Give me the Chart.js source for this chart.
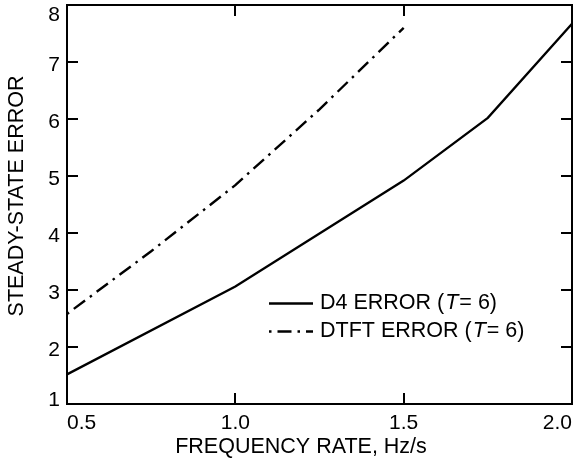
<!DOCTYPE html>
<html>
<head>
<meta charset="utf-8">
<style>
  html, body { margin: 0; padding: 0; background: #fff; }
  #wrap { width: 573px; height: 473px; }
</style>
<script src="https://cdn.jsdelivr.net/npm/chart.js@4/dist/chart.umd.min.js"></script>
</head>
<body>
<div id="wrap"><canvas id="myChart" width="573" height="473"></canvas></div>
<script>
'use strict';

// values
const d4Rate = [0.5, 1.0, 1.5, 1.75, 2.0];
const d4Error = [1.52, 3.06, 4.92, 6.02, 7.67];
const dtftRate = [0.5, 0.75, 1.0, 1.25, 1.5];
const dtftError = [2.58, 3.68, 4.84, 6.17, 7.6];
const xTicks = [0.5, 1.0, 1.5, 2.0];
const yTicks = [1, 2, 3, 4, 5, 6, 7, 8];
const seriesNames = ['D4 ERROR', 'DTFT ERROR'];
const periodLabel = '= 6)';
const xTitle = 'FREQUENCY RATE, Hz/s';
const yTitle = 'STEADY-STATE ERROR';

const FONT = "'Liberation Sans', Arial, sans-serif";
const dashDot = [2.5, 6, 14, 6];

function toPoints(xs, ys) {
  return xs.map((x, i) => ({x: x, y: ys[i]}));
}

// frame, inward ticks on all four sides, labels, titles and the legend
const framePlugin = {
  id: 'frame',
  afterDraw(chart) {
    const ctx = chart.ctx;
    const a = chart.chartArea;
    const xs = chart.scales.x, ys = chart.scales.y;
    ctx.save();
    ctx.setLineDash([]);
    ctx.strokeStyle = '#000';
    ctx.lineWidth = 2;
    ctx.beginPath();
    xs.ticks.forEach(t => {
      const px = Math.round(xs.getPixelForValue(t.value));
      ctx.moveTo(px, a.bottom); ctx.lineTo(px, a.bottom - 11);
      ctx.moveTo(px, a.top); ctx.lineTo(px, a.top + 11);
    });
    ys.ticks.forEach(t => {
      const py = Math.round(ys.getPixelForValue(t.value));
      ctx.moveTo(a.left, py); ctx.lineTo(a.left + 11, py);
      ctx.moveTo(a.right, py); ctx.lineTo(a.right - 11, py);
    });
    ctx.stroke();
    ctx.strokeRect(a.left, a.top, a.right - a.left, a.bottom - a.top);

    ctx.fillStyle = '#000';
    // y tick labels, kept inside the frame height like the original
    ctx.font = '21px ' + FONT;
    ctx.textAlign = 'right';
    ctx.textBaseline = 'middle';
    ys.ticks.forEach(t => {
      let py = ys.getPixelForValue(t.value) + 3;
      py = Math.min(Math.max(py, a.top + 10), a.bottom - 4);
      ctx.fillText(String(t.value), a.left - 7, py);
    });

    // axis titles
    ctx.font = '21.5px ' + FONT;
    ctx.textAlign = 'center';
    ctx.fillText(xTitle, 301, 447);
    ctx.save();
    ctx.translate(17, 196);
    ctx.rotate(-Math.PI / 2);
    ctx.fillText(yTitle, 0, 0);
    ctx.restore();

    // legend
    ctx.textAlign = 'left';
    const rows = [303.5, 331.5];
    chart.data.datasets.forEach((ds, i) => {
      const y = rows[i];
      ctx.lineWidth = ds.borderWidth;
      ctx.setLineDash(ds.borderDash || []);
      ctx.beginPath();
      ctx.moveTo(269, y); ctx.lineTo(313, y);
      ctx.stroke();
      ctx.setLineDash([]);
      let x = 320;
      ctx.font = '21.5px ' + FONT;
      const head = ds.label + ' (';
      ctx.fillText(head, x, y);
      x += ctx.measureText(head).width;
      ctx.font = 'italic 21.5px ' + FONT;
      ctx.fillText('T', x + 1, y);
      x += ctx.measureText('T').width + 2;
      ctx.font = '21.5px ' + FONT;
      ctx.fillText(periodLabel, x, y);
    });
    ctx.restore();
  }
};

const ctx = document.getElementById('myChart').getContext('2d');
const myChart = new Chart(ctx, {
  type: 'line',
  data: {
    datasets: [{
      label: seriesNames[0],
      data: toPoints(d4Rate, d4Error),
      borderColor: '#000',
      borderWidth: 2.3,
      pointRadius: 0,
      fill: false
    },
    {
      label: seriesNames[1],
      data: toPoints(dtftRate, dtftError),
      borderColor: '#000',
      borderWidth: 2.4,
      borderDash: dashDot,
      pointRadius: 0,
      fill: false
    }]
  },
  options: {
    responsive: false,
    animation: false,
    events: [],
    layout: { padding: { left: 0, right: 1, top: 5, bottom: 0 } },
    plugins: { legend: { display: false }, tooltip: { enabled: false } },
    scales: {
      x: {
        type: 'linear',
        min: 0.5,
        max: 2.0,
        afterFit(s) {
          s.height = 69;
          s.paddingLeft = 0; s.paddingRight = 0;
        },
        afterBuildTicks(s) { s.ticks = xTicks.map(v => ({value: v})); },
        grid: { display: false, drawTicks: false },
        border: { display: false },
        ticks: {
          color: '#000',
          font: { family: FONT, size: 21 },
          padding: 7,
          align: 'inner',
          maxRotation: 0,
          callback: v => v.toFixed(1)
        }
      },
      y: {
        min: 1,
        max: 8,
        afterFit(s) {
          s.width = 67;
          s.paddingTop = 0; s.paddingBottom = 0;
        },
        afterBuildTicks(s) { s.ticks = yTicks.map(v => ({value: v})); },
        grid: { display: false, drawTicks: false },
        border: { display: false },
        ticks: { display: false }
      }
    }
  },
  plugins: [framePlugin]
});
</script>
</body>
</html>
